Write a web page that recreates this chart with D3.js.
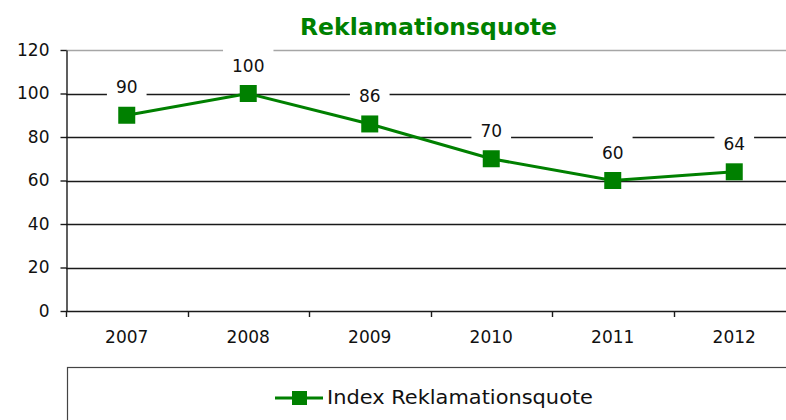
<!DOCTYPE html>
<html><head><meta charset="utf-8">
<script src="https://cdn.jsdelivr.net/npm/d3@7"></script>
<style>body{margin:0;background:#fff}svg{display:block}</style>
</head><body>
<svg id="c" width="786" height="420"></svg>
<script>
const years = ["2007","2008","2009","2010","2011","2012"];
const values = [90,100,86,70,60,64];
const yTicks = [0,20,40,60,80,100,120];
const title = "Reklamationsquote";
const seriesName = "Index Reklamationsquote";

const green = "#008000";
const font = "DejaVu Sans, Verdana, sans-serif";
const svg = d3.select("#c");
const x = d3.scaleBand().domain(years).range([66, 66 + 6 * 121.5]).paddingInner(0).paddingOuter(0);
const y = d3.scaleLinear().domain([0,120]).range([311, 50]);

// title
svg.append("text").attr("x", 428.5).attr("y", 35).attr("text-anchor","middle")
  .attr("font-family", font).attr("font-weight","bold").attr("font-size", 23.5)
  .attr("fill", green).text(title);

// gridlines
svg.append("g").selectAll("line").data(yTicks.filter(d=>d>0)).join("line")
  .attr("x1", 66).attr("x2", 800)
  .attr("y1", d=>Math.round(y(d))+0.5).attr("y2", d=>Math.round(y(d))+0.5)
  .attr("stroke", d=> d===120 ? "#a6a6a6" : "#1a1a1a").attr("stroke-width", 1.4);

// y axis
const ya = svg.append("g").attr("transform","translate(66.5,0)")
  .call(d3.axisLeft(y).tickValues(yTicks).tickSize(6).tickPadding(11).tickSizeOuter(0));
ya.select(".domain").attr("stroke","#1a1a1a").attr("stroke-width",1.4);
ya.selectAll(".tick line").attr("stroke","#1a1a1a").attr("stroke-width",1.4);
ya.selectAll(".tick text").attr("font-family", font).attr("font-size", 17).attr("fill","#111");

// x axis
svg.append("line").attr("x1",66).attr("x2",800).attr("y1",Math.round(y(0))+0.5).attr("y2",Math.round(y(0))+0.5)
  .attr("stroke","#1a1a1a").attr("stroke-width",1.4);
svg.append("g").selectAll("line").data(years).join("line")
  .attr("x1", d=>Math.round(x(d))+0.5).attr("x2", d=>Math.round(x(d))+0.5)
  .attr("y1", y(0)).attr("y2", y(0)+6).attr("stroke","#1a1a1a").attr("stroke-width",1.4);
svg.append("g").selectAll("text").data(years).join("text")
  .attr("x", d=>x(d)+x.bandwidth()/2).attr("y", 343).attr("text-anchor","middle")
  .attr("font-family", font).attr("font-size", 17).attr("fill","#111").text(d=>d);

const pts = years.map((d,i)=>({year:d, v:values[i]}));
const cx = d=>x(d.year)+x.bandwidth()/2;

// label backgrounds
const lbl = svg.append("g");
pts.forEach(p=>{
  const t = lbl.append("text").attr("x", cx(p)).attr("y", y(p.v)-22).attr("text-anchor","middle")
    .attr("font-family", font).attr("font-size", 17).attr("fill","#111").text(p.v);
  const w = t.node().getComputedTextLength() + 18;
  lbl.insert("rect","text").attr("x", cx(p)-w/2).attr("y", y(p.v)-46).attr("width", w).attr("height", 34).attr("fill","#fff");
});

// line
svg.append("path").datum(pts).attr("fill","none").attr("stroke",green).attr("stroke-width",3)
  .attr("d", d3.line().x(cx).y(d=>y(d.v)));
svg.append("g").selectAll("rect").data(pts).join("rect")
  .attr("x", d=>cx(d)-8.5).attr("y", d=>y(d.v)-8.5).attr("width",17).attr("height",17).attr("fill",green);
svg.node().appendChild(lbl.node());

// legend
svg.append("rect").attr("x",67.5).attr("y",367.5).attr("width",800).attr("height",100)
  .attr("fill","none").attr("stroke","#444").attr("stroke-width",1.2);
svg.append("line").attr("x1",275).attr("x2",323).attr("y1",398).attr("y2",398).attr("stroke",green).attr("stroke-width",3);
svg.append("rect").attr("x",292).attr("y",391).attr("width",15).attr("height",14).attr("fill",green);
svg.append("text").attr("x",327).attr("y",404).attr("font-family",font).attr("font-size",19.5)
  .attr("textLength",266).attr("lengthAdjust","spacingAndGlyphs").attr("fill","#111").text(seriesName);
</script>
</body></html>
